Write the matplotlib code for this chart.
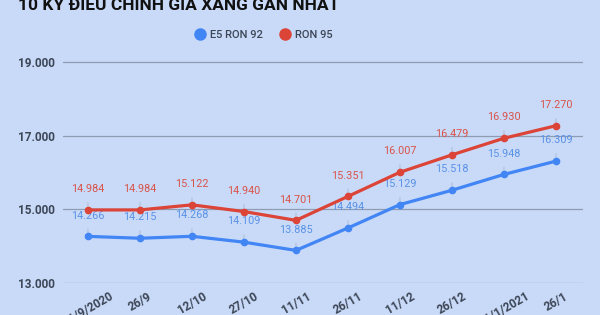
import matplotlib.pyplot as plt

plt.rcParams['font.family'] = ['Roboto', 'DejaVu Sans']

# data
dates = ['11/9/2020', '26/9', '12/10', '27/10', '11/11', '26/11',
         '11/12', '26/12', '11/1/2021', '26/1']
e5_ron92 = [14266, 14215, 14268, 14109, 13885, 14494, 15129, 15518, 15948, 16309]
ron95 = [14984, 14984, 15122, 14940, 14701, 15351, 16007, 16479, 16930, 17270]
yticks = [13000, 15000, 17000, 19000]

bg = '#c9daf8'
blue = '#4285f4'
red = '#db4437'

def fmt(v):
    return '{:,}'.format(v).replace(',', '.')

fig = plt.figure(figsize=(6, 3.15), dpi=100)
fig.patch.set_facecolor(bg)
ax = fig.add_axes([63 / 600, 32 / 315, 520 / 600, 239.4 / 315])
ax.set_facecolor(bg)

x = list(range(len(dates)))
ax.plot(x, e5_ron92, color=blue, lw=2.3, marker='o', ms=4.5, zorder=3, label='E5 RON 92')
ax.plot(x, ron95, color=red, lw=2.3, marker='o', ms=4.5, zorder=3, label='RON 95')

for xi, v in zip(x, e5_ron92):
    ax.annotate(fmt(v), (xi, v), xytext=(0, 15), textcoords='offset points',
                ha='center', va='center', fontsize=7.8, color='#5a92e6',
                arrowprops=dict(arrowstyle='-', color='#a9b6cc', lw=0.6,
                                shrinkA=4, shrinkB=0), zorder=2)
for xi, v in zip(x, ron95):
    ax.annotate(fmt(v), (xi, v), xytext=(0, 15), textcoords='offset points',
                ha='center', va='center', fontsize=7.8, color='#d9534a',
                arrowprops=dict(arrowstyle='-', color='#a9b6cc', lw=0.6,
                                shrinkA=4, shrinkB=0), zorder=2)

ax.set_xlim(-0.48, 9.52)
ax.set_ylim(13000, 19500)
ax.set_yticks(yticks)
ax.set_yticklabels([fmt(v) for v in yticks], fontsize=8.5, fontweight='bold', color='#3c4656')
ax.set_xticks(x)
ax.set_xticklabels(dates, rotation=30, ha='center', fontsize=8.5,
                   fontweight='bold', color='#3c4656')
ax.tick_params(length=0, pad=6)
ax.tick_params(axis='x', pad=5)
for s in ax.spines.values():
    s.set_visible(False)
ax.grid(axis='y', color='#8e9bb3', lw=0.9)
ax.set_axisbelow(True)

leg = fig.legend(loc='center', bbox_to_anchor=(264 / 600, 1 - 35 / 315), ncol=2,
                 frameon=False, handlelength=0.8, handletextpad=0.5, columnspacing=1.6,
                 prop={'size': 8, 'weight': 'medium'})
for h in leg.legend_handles:
    h.set_linestyle('')
    h.set_markersize(8)
for t in leg.get_texts():
    t.set_color('#3c4656')

fig.text(18 / 600, 1 - 10 / 315, '10 KỲ ĐIỀU CHỈNH GIÁ XĂNG GẦN NHẤT',
         fontsize=12.5, fontweight='bold', color='#111111', va='baseline', ha='left')

fig.savefig('out.png', dpi=100, facecolor=bg)
